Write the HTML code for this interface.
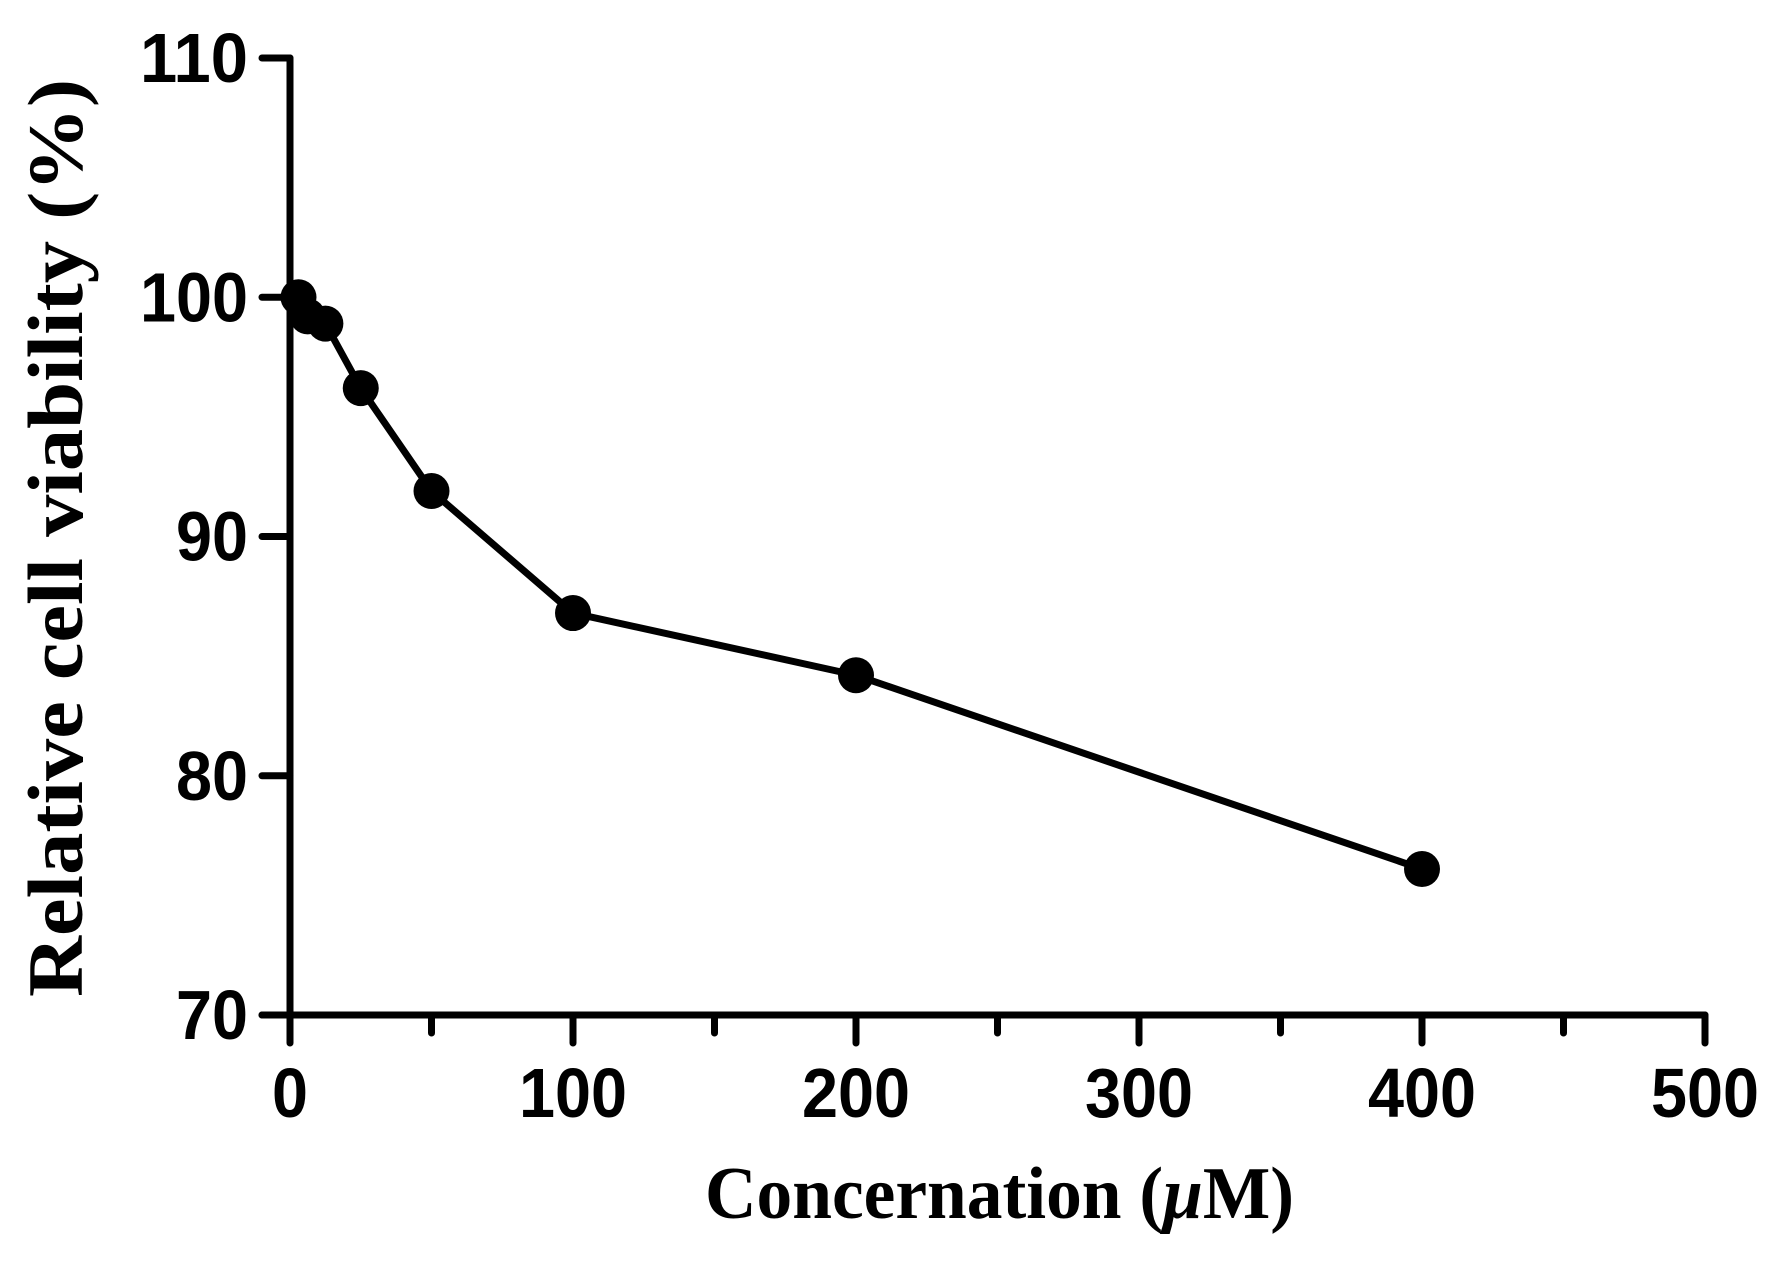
<!DOCTYPE html>
<html>
<head>
<meta charset="utf-8">
<style>
html,body{margin:0;padding:0;background:#fff;}
svg{display:block;}
</style>
</head>
<body>
<svg id="chart" width="1777" height="1264" viewBox="0 0 1777 1264" xmlns="http://www.w3.org/2000/svg"></svg>
<script>
const concentrations = [3, 6.25, 12.5, 25, 50, 100, 200, 400];
const viability = [100, 99.2, 98.9, 96.2, 91.9, 86.8, 84.2, 76.1];
const yTicks = [70, 80, 90, 100, 110];
const xMajorTicks = [0, 100, 200, 300, 400, 500];
const xMinorTicks = [50, 150, 250, 350, 450];

const X0 = 290, XPER = 2.83;
const Y0 = 1015, YPER = 23.925;
function xs(v){ return X0 + v * XPER; }
function ys(v){ return Y0 - (v - 70) * YPER; }

const NS = 'http://www.w3.org/2000/svg';
const svg = document.getElementById('chart');
function mk(tag, attrs, parent){
  const e = document.createElementNS(NS, tag);
  for (const k in attrs) e.setAttribute(k, attrs[k]);
  (parent || svg).appendChild(e);
  return e;
}

const yAxis = mk('line', {x1: xs(0), y1: ys(110), x2: xs(0), y2: ys(70), stroke: '#000', 'stroke-width': 7, 'stroke-linecap': 'round'});


const xAxis = mk('line', {x1: 262, y1: ys(70), x2: xs(500), y2: ys(70), stroke: '#000', 'stroke-width': 7, 'stroke-linecap': 'round'});



yTicks.forEach(t => {
  const tk = mk('line', {x1: 262, y1: ys(t), x2: xs(0), y2: ys(t), stroke: '#000', 'stroke-width': 7, 'stroke-linecap': 'round'});
  
  
  const lb = mk('text', {x: 248, y: ys(t) + 24, 'text-anchor': 'end', 'font-family': 'Liberation Sans, Arial, sans-serif', 'font-weight': 'bold', 'font-size': 70, textLength: String(t).length * 36, lengthAdjust: 'spacingAndGlyphs'});
  lb.textContent = t;
  
  
});

xMajorTicks.forEach(t => {
  const tk = mk('line', {x1: xs(t), y1: ys(70), x2: xs(t), y2: 1043, stroke: '#000', 'stroke-width': 7, 'stroke-linecap': 'round'});
  
  
  const lb = mk('text', {x: xs(t), y: 1117, 'text-anchor': 'middle', 'font-family': 'Liberation Sans, Arial, sans-serif', 'font-weight': 'bold', 'font-size': 70, textLength: String(t).length * 36, lengthAdjust: 'spacingAndGlyphs'});
  lb.textContent = t;
  
  
});
xMinorTicks.forEach(t => {
  const tk = mk('line', {x1: xs(t), y1: ys(70), x2: xs(t), y2: 1033, stroke: '#000', 'stroke-width': 7, 'stroke-linecap': 'round'});
  
  
});

const pts = concentrations.map((c, i) => xs(c) + ',' + ys(viability[i])).join(' ');
const line = mk('polyline', {points: pts, fill: 'none', stroke: '#000', 'stroke-width': 7, 'stroke-linejoin': 'round'});



concentrations.forEach((c, i) => {
  const p = mk('circle', {cx: xs(c), cy: ys(viability[i]), r: 18, fill: '#000'});
  
  
});

const xt = mk('text', {x: 705, y: 1218, 'font-family': 'Liberation Serif, Times New Roman, serif', 'font-weight': 'bold', 'font-size': 74, textLength: 589, lengthAdjust: 'spacingAndGlyphs'});
xt.innerHTML = 'Concernation (<tspan font-style="italic">μ</tspan>M)';



const yt = mk('text', {x: 0, y: 0, transform: 'translate(82,997) rotate(-90)', 'font-family': 'Liberation Serif, Times New Roman, serif', 'font-weight': 'bold', 'font-size': 78, textLength: 918, lengthAdjust: 'spacingAndGlyphs'});
yt.textContent = 'Relative cell viability (%)';


</script>
</body>
</html>
